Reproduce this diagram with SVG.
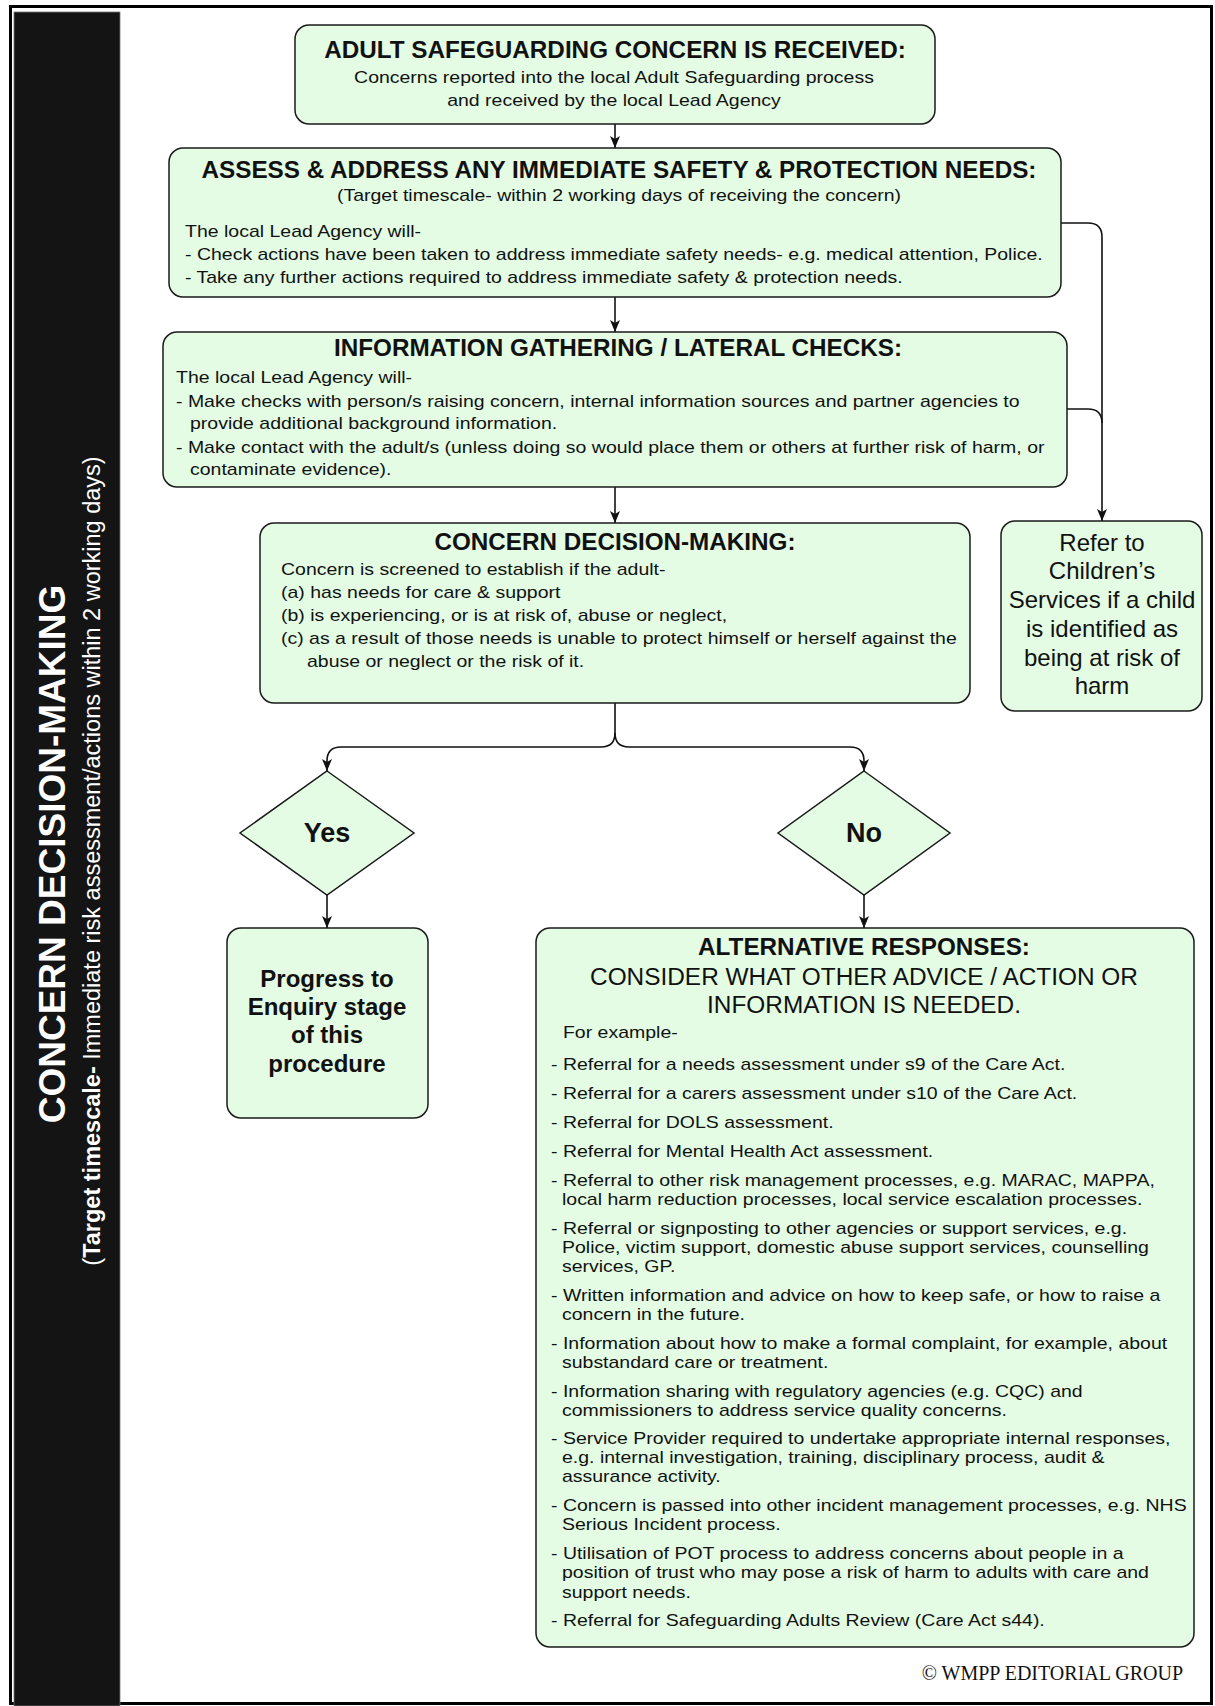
<svg xmlns="http://www.w3.org/2000/svg" width="1215" height="1706" viewBox="0 0 1215 1706">
<defs>
<marker id="arr" markerUnits="userSpaceOnUse" markerWidth="12" markerHeight="10" refX="12" refY="5" orient="auto">
<path d="M0,0 L12,5 L0,10 L3,5 z" fill="#111"/>
</marker>
<style>
.box{fill:#e3fce3;stroke:#1a1a1a;stroke-width:1.5}
.t{font-family:"Liberation Sans",Arial,sans-serif;fill:#111}
.b{font-weight:bold}
.h{font-size:23px;font-weight:bold}
.p{font-size:17.4px}
.c{text-anchor:middle}
.ln{fill:none;stroke:#111;stroke-width:1.6}
</style>
</defs>
<rect width="1215" height="1706" fill="#fff"/>
<rect x="10.5" y="6.5" width="1201" height="1697" fill="none" stroke="#000" stroke-width="3"/>
<g id="side-panel">
<rect x="14" y="12" width="106" height="1694" fill="#141414" stroke="#777" stroke-width="0.8"/>
<text class="t b" transform="translate(65,854) rotate(-90)" text-anchor="middle" font-size="37" style="fill:#fff">CONCERN DECISION-MAKING</text>
<text class="t" transform="translate(100,861) rotate(-90)" text-anchor="middle" font-size="23.5" style="fill:#fff">(<tspan font-weight="bold">Target timescale-</tspan> Immediate risk assessment/actions within 2 working days)</text>
</g>
<g id="connectors">
<path class="ln" d="M615,124 V148" marker-end="url(#arr)"/>
<path class="ln" d="M615,297 V332" marker-end="url(#arr)"/>
<path class="ln" d="M615,487 V523" marker-end="url(#arr)"/>
<path class="ln" d="M1061,223 H1088 Q1102,223 1102,237 V521" marker-end="url(#arr)"/>
<path class="ln" d="M1067,409 H1088 Q1102,409 1102,423"/>
<path class="ln" d="M615,703 V733 Q615,747 601,747 H341 Q327,747 327,761 V771" marker-end="url(#arr)"/>
<path class="ln" d="M615,733 Q615,747 629,747 H850 Q864,747 864,761 V771" marker-end="url(#arr)"/>
<path class="ln" d="M327,895 V928" marker-end="url(#arr)"/>
<path class="ln" d="M864,895 V928" marker-end="url(#arr)"/>
</g>
<g id="concern-received">
<rect class="box" x="295" y="25" width="640" height="99" rx="14"/>
<text class="t h c" x="615" y="58" transform="matrix(1.055 0 0 1 -33.825 0)">ADULT SAFEGUARDING CONCERN IS RECEIVED:</text>
<g class="t p c" transform="matrix(1.12 0 0 1 -73.68 0)">
<text x="614" y="83">Concerns reported into the local Adult Safeguarding process</text>
<text x="614" y="106">and received by the local Lead Agency</text>
</g>
</g>
<g id="assess">
<rect class="box" x="169" y="148" width="892" height="149" rx="14"/>
<text class="t h c" x="619" y="178" transform="matrix(1.055 0 0 1 -34.045 0)">ASSESS &amp; ADDRESS ANY IMMEDIATE SAFETY &amp; PROTECTION NEEDS:</text>
<text class="t p c" x="619" y="201" transform="matrix(1.12 0 0 1 -74.28 0)">(Target timescale- within 2 working days of receiving the concern)</text>
<g class="t p" transform="matrix(1.12 0 0 1 -22.2 0)">
<text x="185" y="237">The local Lead Agency will-</text>
<text x="185" y="260">- Check actions have been taken to address immediate safety needs- e.g. medical attention, Police.</text>
<text x="185" y="283">- Take any further actions required to address immediate safety &amp; protection needs.</text>
</g>
</g>
<g id="info-gathering">
<rect class="box" x="163" y="332" width="904" height="155" rx="14"/>
<text class="t h c" x="618" y="356" transform="matrix(1.055 0 0 1 -33.99 0)">INFORMATION GATHERING / LATERAL CHECKS:</text>
<g class="t p" transform="matrix(1.12 0 0 1 -21.12 0)">
<text x="176" y="383">The local Lead Agency will-</text>
<text x="176" y="407">- Make checks with person/s raising concern, internal information sources and partner agencies to</text>
<text x="188.5" y="429">provide additional background information.</text>
<text x="176" y="453">- Make contact with the adult/s (unless doing so would place them or others at further risk of harm, or</text>
<text x="188.5" y="475">contaminate evidence).</text>
</g>
</g>
<g id="decision">
<rect class="box" x="260" y="523" width="710" height="180" rx="14"/>
<text class="t h c" x="615" y="550" transform="matrix(1.055 0 0 1 -33.825 0)">CONCERN DECISION-MAKING:</text>
<g class="t p" transform="matrix(1.12 0 0 1 -33.72 0)">
<text x="281" y="575">Concern is screened to establish if the adult-</text>
<text x="281" y="598">(a) has needs for care &amp; support</text>
<text x="281" y="621">(b) is experiencing, or is at risk of, abuse or neglect,</text>
<text x="281" y="644">(c) as a result of those needs is unable to protect himself or herself against the</text>
<text x="304.2" y="667">abuse or neglect or the risk of it.</text>
</g>
</g>
<g id="refer-children">
<rect class="box" x="1001" y="521" width="201" height="190" rx="14"/>
<g class="t c" font-size="24">
<text x="1102" y="551">Refer to</text>
<text x="1102" y="579">Children’s</text>
<text x="1102" y="608">Services if a child</text>
<text x="1102" y="637">is identified as</text>
<text x="1102" y="666">being at risk of</text>
<text x="1102" y="694">harm</text>
</g>
</g>
<g id="yes">
<polygon class="box" points="327,771 414,833 327,895 240,833"/>
<text class="t b c" x="327" y="842" font-size="27">Yes</text>
</g>
<g id="no">
<polygon class="box" points="864,771 950,833 864,895 778,833"/>
<text class="t b c" x="864" y="842" font-size="27">No</text>
</g>
<g id="progress">
<rect class="box" x="227" y="928" width="201" height="190" rx="14"/>
<g class="t b c" font-size="24">
<text x="327" y="987">Progress to</text>
<text x="327" y="1015">Enquiry stage</text>
<text x="327" y="1043">of this</text>
<text x="327" y="1072">procedure</text>
</g>
</g>
<g id="alternative">
<rect class="box" x="536" y="928" width="658" height="719" rx="14"/>
<text class="t h c" x="864" y="955" transform="matrix(1.055 0 0 1 -47.52 0)">ALTERNATIVE RESPONSES:</text>
<text class="t c" x="864" y="985" font-size="24.4">CONSIDER WHAT OTHER ADVICE / ACTION OR</text>
<text class="t c" x="864" y="1013" font-size="24.4">INFORMATION IS NEEDED.</text>
<g class="t p" transform="matrix(1.12 0 0 1 -66.12 0)">
<text x="561.7" y="1038">For example-</text>
<text x="551" y="1070">- Referral for a needs assessment under s9 of the Care Act.</text>
<text x="551" y="1099">- Referral for a carers assessment under s10 of the Care Act.</text>
<text x="551" y="1128">- Referral for DOLS assessment.</text>
<text x="551" y="1157">- Referral for Mental Health Act assessment.</text>
<text x="551" y="1186">- Referral to other risk management processes, e.g. MARAC, MAPPA,</text>
<text x="560.8" y="1205">local harm reduction processes, local service escalation processes.</text>
<text x="551" y="1234">- Referral or signposting to other agencies or support services, e.g.</text>
<text x="560.8" y="1253">Police, victim support, domestic abuse support services, counselling</text>
<text x="560.8" y="1272">services, GP.</text>
<text x="551" y="1301">- Written information and advice on how to keep safe, or how to raise a</text>
<text x="560.8" y="1320">concern in the future.</text>
<text x="551" y="1349">- Information about how to make a formal complaint, for example, about</text>
<text x="560.8" y="1368">substandard care or treatment.</text>
<text x="551" y="1397">- Information sharing with regulatory agencies (e.g. CQC) and</text>
<text x="560.8" y="1416">commissioners to address service quality concerns.</text>
<text x="551" y="1444">- Service Provider required to undertake appropriate internal responses,</text>
<text x="560.8" y="1463">e.g. internal investigation, training, disciplinary process, audit &amp;</text>
<text x="560.8" y="1482">assurance activity.</text>
<text x="551" y="1511">- Concern is passed into other incident management processes, e.g. NHS</text>
<text x="560.8" y="1530">Serious Incident process.</text>
<text x="551" y="1559">- Utilisation of POT process to address concerns about people in a</text>
<text x="560.8" y="1578">position of trust who may pose a risk of harm to adults with care and</text>
<text x="560.8" y="1598">support needs.</text>
<text x="551" y="1626">- Referral for Safeguarding Adults Review (Care Act s44).</text>
</g>
</g>
<text x="1183" y="1680" text-anchor="end" font-family="'Liberation Serif','Times New Roman',serif" font-size="20" fill="#111">© WMPP EDITORIAL GROUP</text>
</svg>
